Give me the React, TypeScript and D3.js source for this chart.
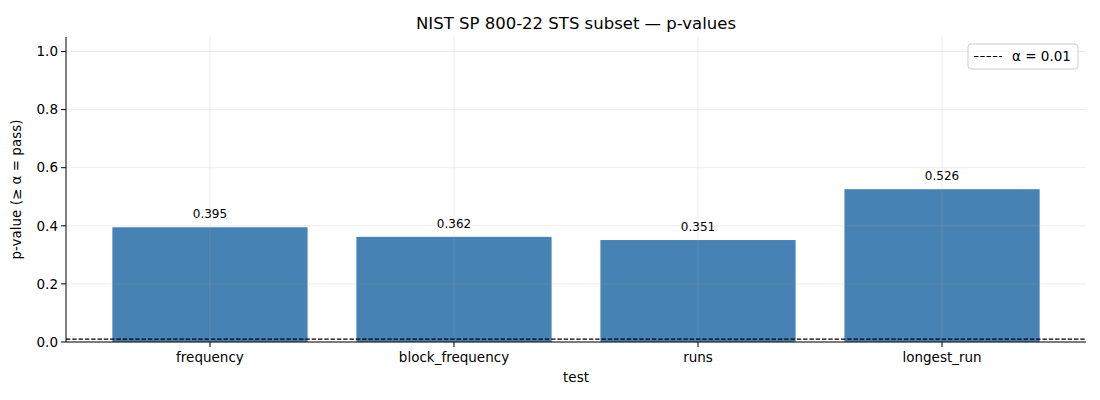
import React from "react";
import * as d3 from "d3";

const categories = ["frequency", "block_frequency", "runs", "longest_run"];
const pValues = [0.395, 0.362, 0.351, 0.526];
const yTicks = [0, 0.2, 0.4, 0.6, 0.8, 1.0];
const alpha = 0.01;

const W = 1100, H = 400;
const m = { left: 66, right: 14, top: 37, bottom: 58 };

export default function App() {
  const iw = W - m.left - m.right;
  const ih = H - m.top - m.bottom;
  const xLin = d3.scaleLinear().domain([-0.59, categories.length - 1 + 0.59]).range([0, iw]);
  const y = d3.scaleLinear().domain([0, 1.05]).range([ih, 0]);
  const bw = xLin(0.8) - xLin(0);
  const font = "DejaVu Sans, sans-serif";
  return (
    <div style={{ position: "absolute", left: 0, top: 0 }}>
      <svg width={W} height={H} style={{ display: "block", fontFamily: font }}>
        <rect width={W} height={H} fill="#fff" />
        <text x={m.left + iw / 2} y={29} textAnchor="middle" fontSize={16.5} fill="#000">
          NIST SP 800-22 STS subset — p-values
        </text>
        <g transform={`translate(${m.left},${m.top})`}>
          {pValues.map((v, i) => (
            <rect key={i} x={xLin(i) - bw / 2} y={y(v)} width={bw} height={y(0) - y(v)} fill="#4682b4" />
          ))}
          {yTicks.map((t) => (
            <line key={"gy" + t} x1={0} x2={iw} y1={y(t)} y2={y(t)} stroke="#b0b0b0" strokeOpacity={0.3} strokeWidth={0.8} />
          ))}
          {categories.map((c, i) => (
            <line key={"gx" + c} x1={xLin(i)} x2={xLin(i)} y1={0} y2={ih} stroke="#b0b0b0" strokeOpacity={0.3} strokeWidth={0.8} />
          ))}
          <line x1={0} x2={iw} y1={y(alpha)} y2={y(alpha)} stroke="#000" strokeWidth={1.2} strokeDasharray="4.4,1.9" />
          {pValues.map((v, i) => (
            <text key={"l" + i} x={xLin(i)} y={y(v) - 9} textAnchor="middle" fontSize={12} fill="#000">
              {v.toFixed(3)}
            </text>
          ))}
          <line x1={0} x2={0} y1={0} y2={ih} stroke="#000" strokeWidth={1} />
          <line x1={0} x2={iw} y1={ih} y2={ih} stroke="#000" strokeWidth={1} />
          {yTicks.map((t) => (
            <g key={"ty" + t} transform={`translate(0,${y(t)})`}>
              <line x1={-5} x2={0} stroke="#000" strokeWidth={1} />
              <text x={-8} dy="0.35em" textAnchor="end" fontSize={13.5} fill="#000">{t.toFixed(1)}</text>
            </g>
          ))}
          {categories.map((c, i) => (
            <g key={"tx" + c} transform={`translate(${xLin(i)},${ih})`}>
              <line y1={0} y2={5} stroke="#000" strokeWidth={1} />
              <text y={20} textAnchor="middle" fontSize={13.5} fill="#000">{c}</text>
            </g>
          ))}
          <text x={iw / 2} y={ih + 40} textAnchor="middle" fontSize={13.5} fill="#000">test</text>
          <text transform={`translate(${-45},${ih / 2}) rotate(-90)`} textAnchor="middle" fontSize={13.5} fill="#000">
            p-value (≥ α = pass)
          </text>
          <g transform={`translate(${iw - 118},7)`}>
            <rect x={0} y={0} width={110} height={25} rx={3} fill="#fff" fillOpacity={0.8} stroke="#ccc" strokeWidth={1} />
            <line x1={6} x2={34} y1={12.5} y2={12.5} stroke="#000" strokeWidth={1.2} strokeDasharray="4.4,1.9" />
            <text x={44} y={12.5} dy="0.35em" fontSize={13.5} fill="#000">α = 0.01</text>
          </g>
        </g>
      </svg>
    </div>
  );
}
